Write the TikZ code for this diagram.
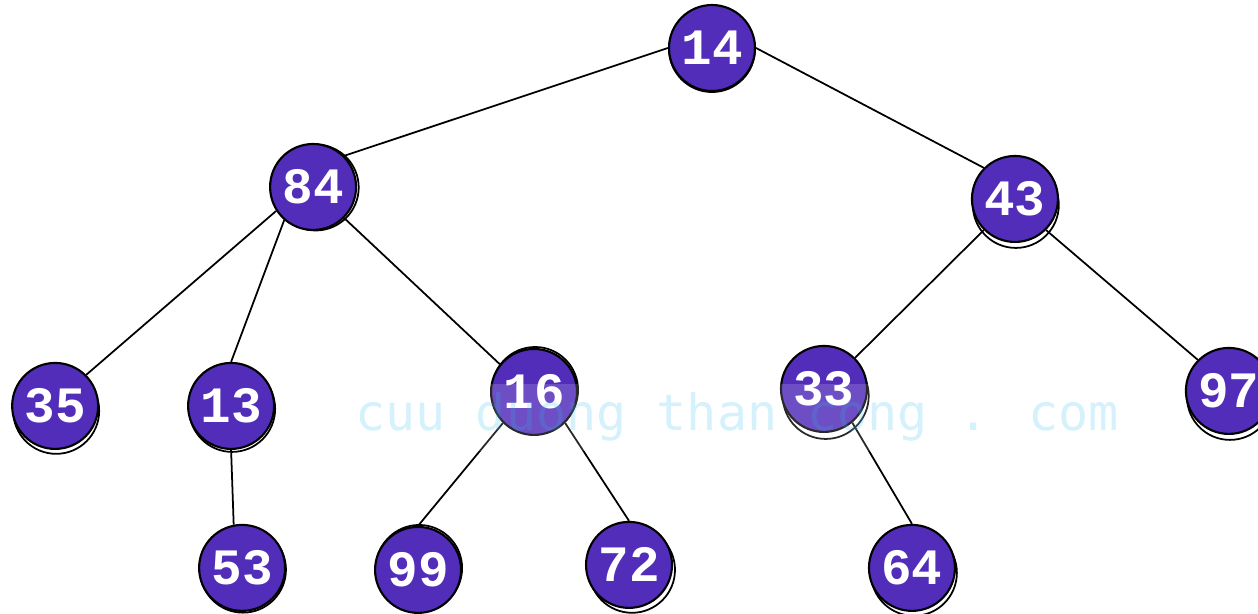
\documentclass[tikz,border=0pt]{standalone}
\usepackage{fontspec}
\usepackage{tikz}
\usetikzlibrary{positioning,shadows}
\newfontfamily\keyfont{Liberation Mono}
\newfontfamily\wmfont{DejaVu Sans Mono}
\definecolor{keyfill}{HTML}{522DB9}
\definecolor{wmtext}{RGB}{45,185,240}

\begin{document}
\begin{tikzpicture}[
  x=0.02cm, y=-0.02cm,
  key/.style={circle, draw, line width=1.2pt, fill=keyfill, text=white,
              minimum size=1.72cm, inner sep=0pt,
              font=\keyfont\bfseries\fontsize{29}{29}\selectfont},
  sk/.style 2 args={copy shadow={shadow xshift=#1, shadow yshift=#2,
              fill=white, draw=black, line width=1pt, opacity=1}},
  edge/.style={line width=1pt},
  wmark/.style={font=\wmfont\fontsize{28.5}{28.5}\selectfont, text=wmtext,
              text opacity=0.2, fill=white, fill opacity=0.16,
              inner xsep=0pt, inner ysep=5pt},
  on grid,
]
  \useasboundingbox (0,0) rectangle (1258,614);
  \clip (0,0) rectangle (1258,614);

  \node[key, sk={0pt}{-0.6pt}] (n14) at (712,48) {14};
  \node[key, sk={1.5pt}{-0.3pt}, below left=2.78cm and 7.98cm of n14] (n84) {84};
  \node[key, sk={0.5pt}{-3.4pt}, below right=3.02cm and 6.06cm of n14] (n43) {43};

  \node[key, sk={0.6pt}{-2.8pt}, below left=4.38cm and 5.16cm of n84] (n35) {35};
  \node[key, sk={0.6pt}{-1.7pt}, below left=4.38cm and 1.64cm of n84] (n13) {13};
  \node[key, sk={0.6pt}{1.1pt}, below right=4.10cm and 4.42cm of n84] (n16) {16};
  \node[key, sk={1pt}{-4pt}, below left=3.80cm and 3.82cm of n43] (n33) {33};
  \node[key, sk={0.6pt}{-3.4pt}, below right=3.84cm and 4.28cm of n43] (n97) {97};

  \node[key, sk={0.5pt}{-1pt}, below right=3.24cm and 0.22cm of n13] (n53) {53};
  \node[key, sk={0.6pt}{1.1pt}, below left=3.56cm and 2.32cm of n16] (n99) {99};
  \node[key, sk={1.7pt}{-2.8pt}, below right=3.46cm and 1.90cm of n16] (n72) {72};
  \node[key, sk={1.1pt}{-2.8pt}, below right=3.58cm and 1.76cm of n33] (n64) {64};

  \draw[edge] (n14.west) -- (n84.north east);
  \draw[edge] (n14.east) -- (n43.north west);
  \draw[edge] (n84.213) -- (n35.north east);
  \draw[edge] (n84.229) -- (n13.north);
  \draw[edge] (n84.south east) -- (n16.141);
  \draw[edge] (n13.south) -- (n53.101);
  \draw[edge] (n16.south west) -- (n99.north);
  \draw[edge] (n16.south east) -- (n72.north);
  \draw[edge] (n43.south west) -- (n33.north east);
  \draw[edge] (n43.south east) -- (n97.north west);
  \draw[edge] (n33.310) -- (n64.north);

  % watermark over the tree
  \node[wmark, anchor=base west] (wm) at (355,431) {cuu duong than cong . com};
\end{tikzpicture}
\end{document}
